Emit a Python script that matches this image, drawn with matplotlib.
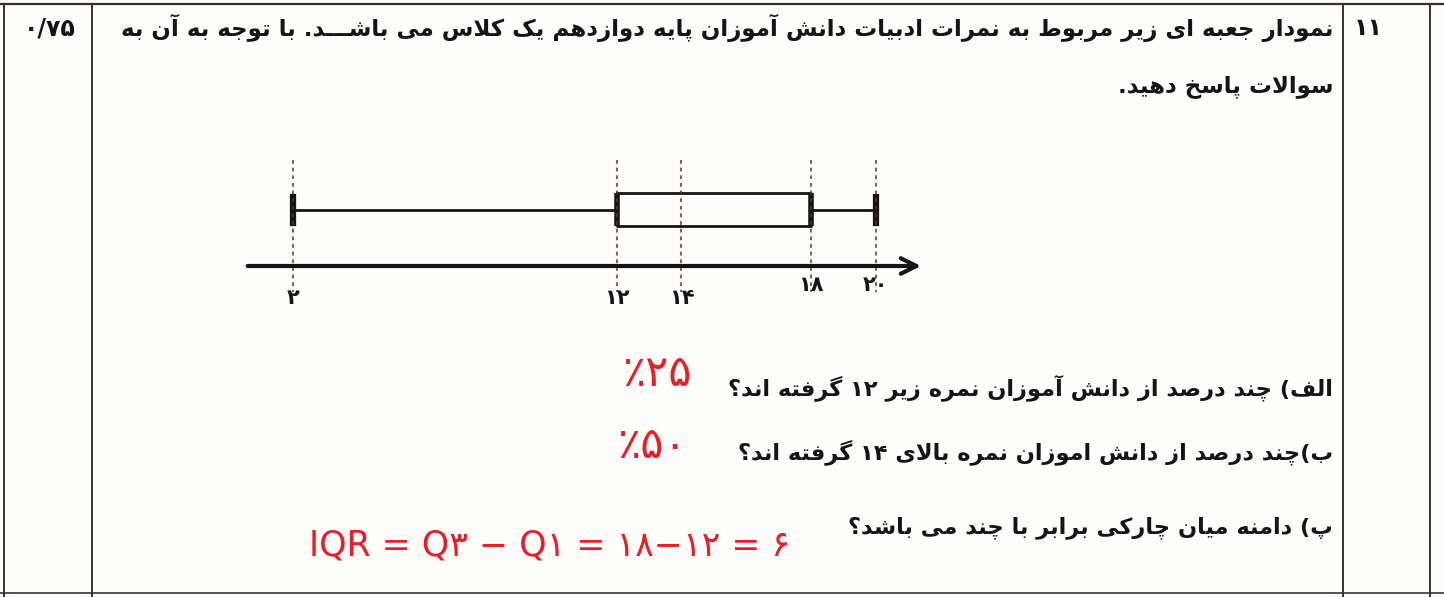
import re
import matplotlib
matplotlib.use('Agg')
import matplotlib.pyplot as plt

# داده های نمودار جعبه ای (نمرات ادبیات)
grade_min = 2
grade_q1 = 12
grade_median = 14
grade_q3 = 18
grade_max = 20
tick_values = [2, 12, 14, 18, 20]
tick_labels = ['۲', '۱۲', '۱۴', '۱۸', '۲۰']

question_no = '۱۱'
question_score = '۰/۷۵'
title_lines = [
    'نمودار جعبه ای زیر مربوط به نمرات ادبیات دانش آموزان پایه دوازدهم یک کلاس می باشـــد. با توجه به آن به',
    'سوالات پاسخ دهید.',
]
questions = [
    'الف) چند درصد از دانش آموزان نمره زیر ۱۲ گرفته اند؟',
    'ب)چند درصد از دانش اموزان نمره بالای ۱۴ گرفته اند؟',
    'پ) دامنه میان چارکی برابر با چند می باشد؟',
]
answers = ['٪۲۵', '٪۵۰', 'IQR = Q۳ − Q۱ = ۱۸−۱۲ = ۶']

# شکل حروف فارسی: (تنها، پایانی، آغازی، میانی)
FORMS = {
    'آ': ('\uFE81', '\uFE82', None, None),
    'ا': ('\uFE8D', '\uFE8E', None, None),
    'ب': ('\uFE8F', '\uFE90', '\uFE91', '\uFE92'),
    'پ': ('\uFB56', '\uFB57', '\uFB58', '\uFB59'),
    'ت': ('\uFE95', '\uFE96', '\uFE97', '\uFE98'),
    'ج': ('\uFE9D', '\uFE9E', '\uFE9F', '\uFEA0'),
    'چ': ('\uFB7A', '\uFB7B', '\uFB7C', '\uFB7D'),
    'خ': ('\uFEA5', '\uFEA6', '\uFEA7', '\uFEA8'),
    'د': ('\uFEA9', '\uFEAA', None, None),
    'ر': ('\uFEAD', '\uFEAE', None, None),
    'ز': ('\uFEAF', '\uFEB0', None, None),
    'س': ('\uFEB1', '\uFEB2', '\uFEB3', '\uFEB4'),
    'ش': ('\uFEB5', '\uFEB6', '\uFEB7', '\uFEB8'),
    'ص': ('\uFEB9', '\uFEBA', '\uFEBB', '\uFEBC'),
    'ط': ('\uFEC1', '\uFEC2', '\uFEC3', '\uFEC4'),
    'ع': ('\uFEC9', '\uFECA', '\uFECB', '\uFECC'),
    'ف': ('\uFED1', '\uFED2', '\uFED3', '\uFED4'),
    'ک': ('\uFB8E', '\uFB8F', '\uFB90', '\uFB91'),
    'گ': ('\uFB92', '\uFB93', '\uFB94', '\uFB95'),
    'ل': ('\uFEDD', '\uFEDE', '\uFEDF', '\uFEE0'),
    'م': ('\uFEE1', '\uFEE2', '\uFEE3', '\uFEE4'),
    'ن': ('\uFEE5', '\uFEE6', '\uFEE7', '\uFEE8'),
    'ه': ('\uFEE9', '\uFEEA', '\uFEEB', '\uFEEC'),
    'و': ('\uFEED', '\uFEEE', None, None),
    'ی': ('\uFBFC', '\uFBFD', '\uFBFE', '\uFBFF'),
    'ـ': ('\u0640', '\u0640', '\u0640', '\u0640'),
}
LAM_ALEF = {'ا': ('\uFEFB', '\uFEFC'), 'آ': ('\uFEF5', '\uFEF6')}
MIRROR = {'(': ')', ')': '('}


def shape(text):
    """حروف را به شکل چسبیده در می آورد"""
    out = []
    i = 0
    n = len(text)
    while i < n:
        ch = text[i]
        if ch not in FORMS:
            out.append(ch)
            i += 1
            continue
        prev = text[i - 1] if i > 0 else ''
        join_prev = prev in FORMS and FORMS[prev][2] is not None
        if ch == 'ل' and i + 1 < n and text[i + 1] in LAM_ALEF:
            out.append(LAM_ALEF[text[i + 1]][1 if join_prev else 0])
            i += 2
            continue
        nxt = text[i + 1] if i + 1 < n else ''
        join_next = FORMS[ch][2] is not None and nxt in FORMS
        if join_prev and join_next:
            out.append(FORMS[ch][3])
        elif join_next:
            out.append(FORMS[ch][2])
        elif join_prev:
            out.append(FORMS[ch][1])
        else:
            out.append(FORMS[ch][0])
        i += 1
    return ''.join(out)


def rtl(text):
    """ترتیب نمایش راست به چپ، اعداد چپ به راست می مانند"""
    tokens = re.findall(r'[۰-۹0-9]+(?:/[۰-۹0-9]+)*|.', shape(text), re.S)
    return ''.join(MIRROR.get(t, t) for t in reversed(tokens))


W, H = 1444, 597
fig = plt.figure(figsize=(W / 100, H / 100), dpi=100)
fig.patch.set_facecolor('#fdfdfb')

# صفحه (جدول و متن ها) به مختصات پیکسل
page = fig.add_axes([0, 0, 1, 1])
page.set_xlim(0, W)
page.set_ylim(H, 0)
page.axis('off')

ink = '#151515'
frame = '#3a3030'
page.hlines(4, 0, W, color=frame, lw=1.6)
page.hlines(593, 0, W, color=frame, lw=1.2)
page.vlines([4, 92, 1343, 1430], 4, H, color=frame, lw=1.4)

farsi = dict(family=['DejaVu Sans'], fontweight='bold', color=ink)
page.text(50, 28, rtl(question_score), ha='center', va='center', fontsize=17, **farsi)
page.text(1368, 28, rtl(question_no), ha='center', va='center', fontsize=17, **farsi)
for y, line in zip([28, 87], title_lines):
    page.text(1333, y, rtl(line), ha='right', va='center', fontsize=16.5, **farsi)
for y, line in zip([388, 452, 528], questions):
    page.text(1333, y, rtl(line), ha='right', va='center', fontsize=16.2, **farsi)

# پاسخ ها با خودکار قرمز
pen = dict(family=['DejaVu Sans'], fontweight='normal', color='#ec1b24')
page.text(657, 374, answers[0], ha='center', va='center', fontsize=31, **pen)
page.text(652, 446, answers[1], ha='center', va='center', fontsize=31, **pen)
page.text(550, 545, answers[2], ha='center', va='center', fontsize=25, **pen)

# نمودار جعبه ای
ax = fig.add_axes([0, 0, 1, 1])
ax.patch.set_alpha(0)
px0, px_per_unit = 228.3, 32.37
ax.set_xlim(-px0 / px_per_unit, (W - px0) / px_per_unit)
ax.set_ylim(H, 0)
ax.axis('off')

box_y, box_h = 209.5, 33
stats = [dict(whislo=grade_min, q1=grade_q1, med=grade_median,
              q3=grade_q3, whishi=grade_max, fliers=[])]
ax.bxp(stats, positions=[box_y], widths=box_h, orientation='horizontal',
       showfliers=False, manage_ticks=False, capwidths=26,
       boxprops=dict(color=ink, lw=2.0),
       whiskerprops=dict(color=ink, lw=2.0),
       capprops=dict(color=ink, lw=4.5),
       medianprops=dict(lw=0))
ax.vlines([grade_q1, grade_q3], box_y - box_h / 2, box_y + box_h / 2, color=ink, lw=4)

# خط چین های عمودی
ax.vlines(tick_values, 160, 292, color='#6a2d2d', lw=1.1, linestyles=(0, (2.5, 2.5)))

# محور با فلش
axis_y = 266
ax.annotate('', xy=(grade_max + 1.4, axis_y), xytext=(grade_min - 1.4, axis_y),
            arrowprops=dict(arrowstyle='->', lw=3, color=ink, mutation_scale=28,
                            shrinkA=0, shrinkB=0))
label_y = [298, 298, 298, 285, 285]
for v, lab, ly in zip(tick_values, tick_labels, label_y):
    ax.text(v, ly, lab, ha='center', va='center', fontsize=15, **farsi)

fig.savefig('out.png', dpi=100, facecolor=fig.get_facecolor())
